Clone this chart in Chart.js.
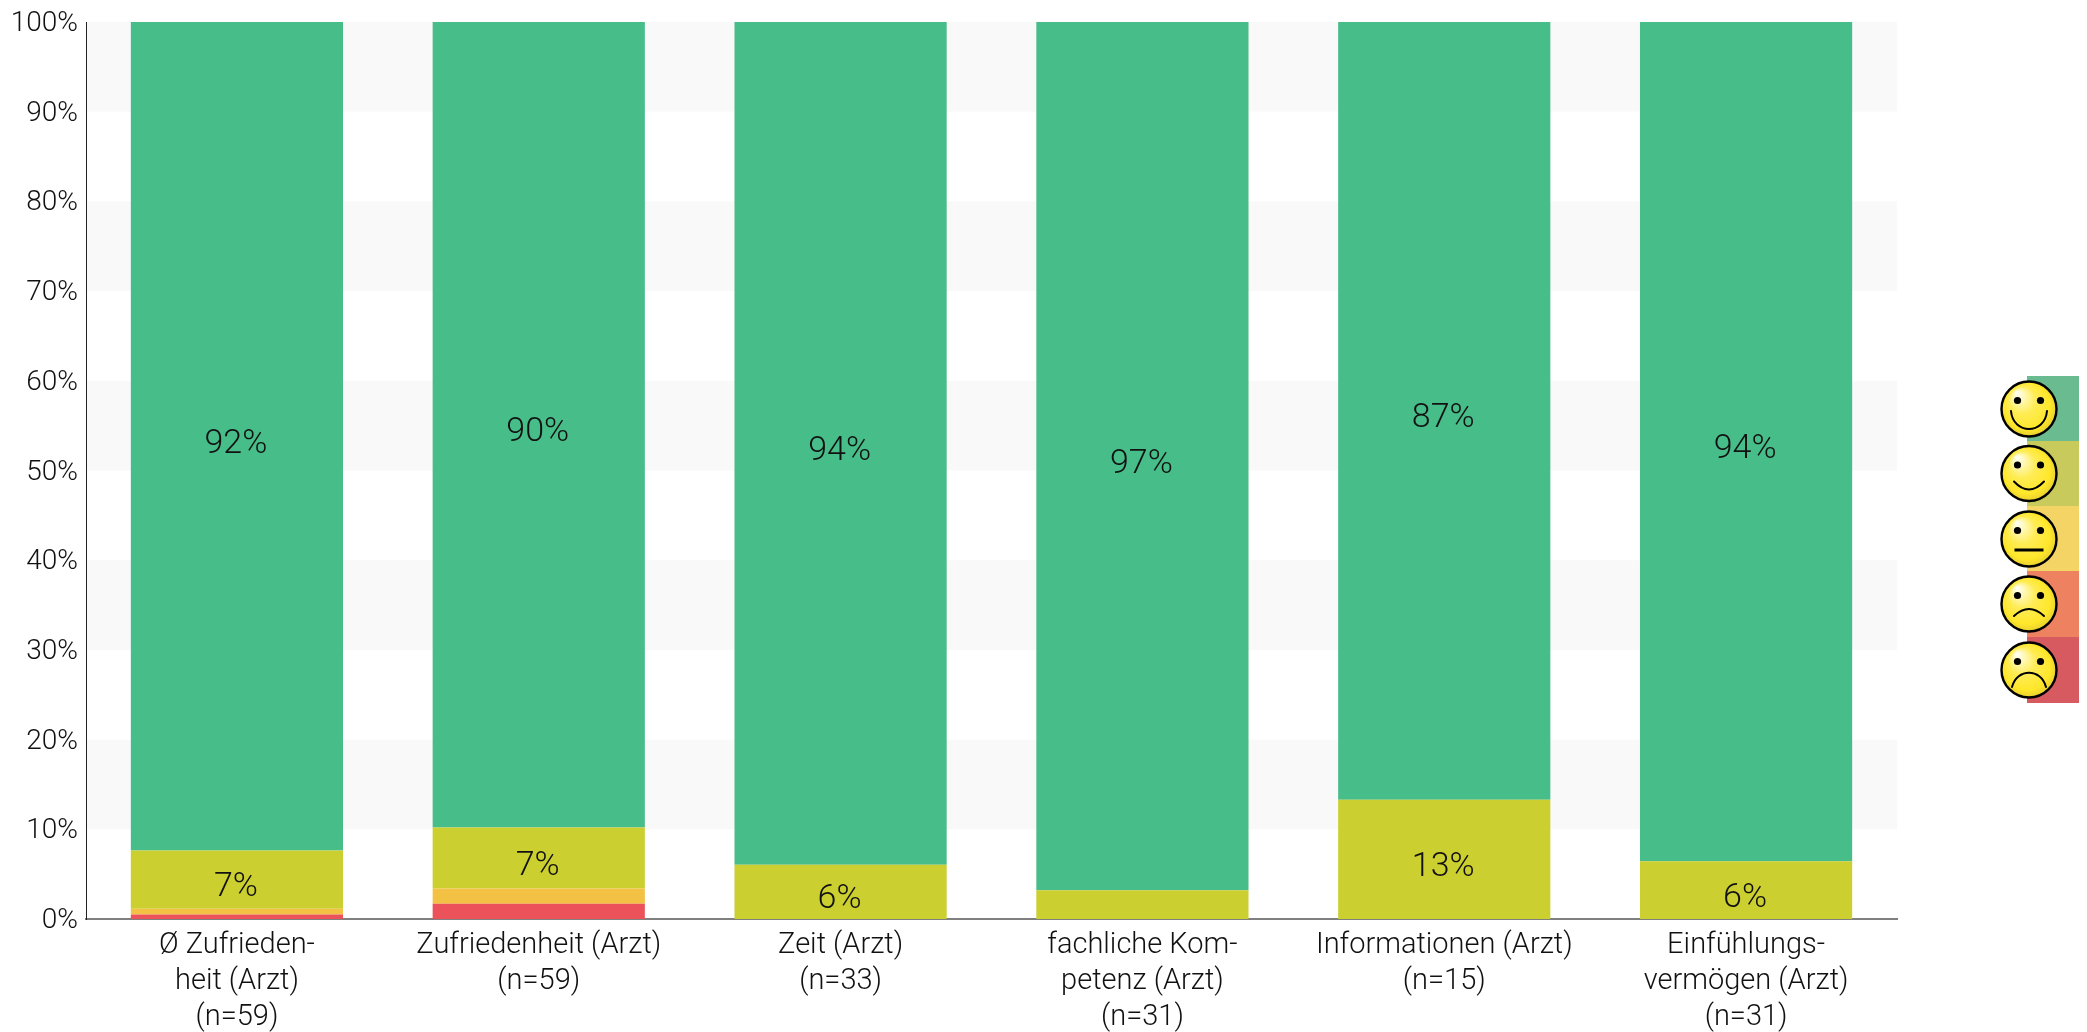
<!DOCTYPE html>
<html><head><meta charset="utf-8">
<style>html,body{margin:0;padding:0;background:#fff;overflow:hidden}canvas{display:block}</style>
<script src="https://cdn.jsdelivr.net/npm/chart.js@4"></script>
</head><body><canvas id="c" width="2087" height="1032"></canvas>
<script>
const categories=[["Ø Zufrieden-","heit (Arzt)","(n=59)"],["Zufriedenheit (Arzt)","(n=59)"],["Zeit (Arzt)","(n=33)"],["fachliche Kom-","petenz (Arzt)","(n=31)"],["Informationen (Arzt)","(n=15)"],["Einfühlungs-","vermögen (Arzt)","(n=31)"]];
const sehrUnzufrieden=[0.5,1.7,0,0,0,0];
const unzufrieden=[0.65,1.7,0,0,0,0];
const zufrieden=[6.5,6.8,6.06,3.2,13.3,6.45];
const sehrZufrieden=[92.35,89.8,93.94,96.8,86.7,93.55];
const barColors=["#EB525A","#F3C244","#CCCF30","#47BD89"];
const legendColors=["#6ABB8F","#C8CB5B","#F5D466","#EE8160","#D65A5F"];
const legendMoods=[1,0.55,0,-0.55,-1];
const bandStarts=[10,30,50,70,90];
const FONT="Roboto";
const FW="300";

const bands={id:"bands",beforeDatasetsDraw(ch){
  const {ctx,chartArea:a,scales:{y}}=ch;ctx.save();ctx.fillStyle="#F9F9F9";
  bandStarts.forEach(s=>{const t=y.getPixelForValue(s+10),b=y.getPixelForValue(s);ctx.fillRect(a.left+1,t,a.right-a.left-1,b-t);});
  ctx.restore();}};
const valueLabels={id:"valueLabels",afterDatasetsDraw(ch){
  const {ctx}=ch;ctx.save();ctx.font=`${FW} 34px ${FONT}`;ctx.fillStyle="#111";ctx.textAlign="center";ctx.textBaseline="middle";
  ch.data.datasets.forEach((d,i)=>{ch.getDatasetMeta(i).data.forEach((el,j)=>{
    if(d.data[j]<4)return;
    ctx.fillText(Math.round(d.data[j])+"%",el.x-1,(el.y+el.base)/2+8);});});
  ctx.restore();}};
function face(ctx,cx,cy,mood){
  const r=27.5;
  const g=ctx.createRadialGradient(cx-12,cy-16,1,cx,cy,r*1.05);
  g.addColorStop(0,"#FFFFF2");g.addColorStop(0.45,"#FFEC55");g.addColorStop(0.8,"#FFE72A");g.addColorStop(1,"#E3CB30");
  ctx.fillStyle=g;ctx.strokeStyle="#000";ctx.lineWidth=2.4;
  ctx.beginPath();ctx.arc(cx,cy,r,0,Math.PI*2);ctx.fill();ctx.stroke();
  ctx.fillStyle="#000";
  [-11.5,11.5].forEach(dx=>{ctx.beginPath();ctx.arc(cx+dx,cy-8.5,3.6,0,Math.PI*2);ctx.fill();});
  ctx.lineWidth=2;ctx.lineCap="round";ctx.beginPath();
  if(mood===1){ctx.moveTo(cx-18,cy+2);ctx.bezierCurveTo(cx-16,cy+26,cx+16,cy+26,cx+18,cy+2);}
  else if(mood===0.55){ctx.moveTo(cx-15,cy+8);ctx.quadraticCurveTo(cx,cy+24,cx+15,cy+8);}
  else if(mood===0){ctx.lineWidth=3;ctx.lineCap="butt";ctx.moveTo(cx-14.5,cy+11);ctx.lineTo(cx+14.5,cy+11);}
  else if(mood===-0.55){ctx.moveTo(cx-15,cy+12);ctx.quadraticCurveTo(cx,cy-2,cx+15,cy+12);}
  else {ctx.moveTo(cx-17,cy+17);ctx.bezierCurveTo(cx-12,cy-2,cx+12,cy-2,cx+17,cy+17);}
  ctx.stroke();ctx.lineCap="butt";
}
const moodLegend={id:"moodLegend",afterDraw(ch){
  const {ctx}=ch;ctx.save();
  const tops=[376,441,506,571,637,703],cys=[409,473.5,539,604,670];
  legendColors.forEach((c,i)=>{ctx.fillStyle=c;ctx.fillRect(2027,tops[i],52,tops[i+1]-tops[i]);});
  legendMoods.forEach((m,i)=>face(ctx,2029,cys[i],m));
  ctx.restore();}};
const mk=(label,data,i)=>({label,data,backgroundColor:barColors[i],borderWidth:0,stack:"s",barPercentage:1,categoryPercentage:0.703});
new Chart(document.getElementById("c"),{type:"bar",
 data:{labels:categories,datasets:[mk("sehr unzufrieden",sehrUnzufrieden,0),mk("neutral",unzufrieden,1),mk("zufrieden",zufrieden,2),mk("sehr zufrieden",sehrZufrieden,3)]},
 options:{responsive:false,animation:false,devicePixelRatio:1,
  layout:{padding:{top:22,right:190,left:0,bottom:0}},
  plugins:{legend:{display:false},tooltip:{enabled:false}},
  scales:{
   x:{stacked:true,
      afterFit(s){s.height=113;},
      grid:{display:false,drawTicks:true,tickLength:4,tickColor:"#555"},
      border:{display:true,color:"#808080",width:2},
      ticks:{color:"#111",font:{family:FONT,weight:FW,size:29,lineHeight:1.24},maxRotation:0,minRotation:0,autoSkip:false,padding:5}},
   y:{stacked:true,min:0,max:100,
      afterFit(s){s.width=86;},
      grid:{display:false,drawTicks:true,tickLength:6,tickColor:"#444"},
      border:{display:true,color:"#222",width:1},
      ticks:{stepSize:10,color:"#111",font:{family:FONT,weight:FW,size:28},padding:2,labelOffset:2,callback:v=>v+"%"}}
  }},
 plugins:[bands,valueLabels,moodLegend]});
</script></body></html>
